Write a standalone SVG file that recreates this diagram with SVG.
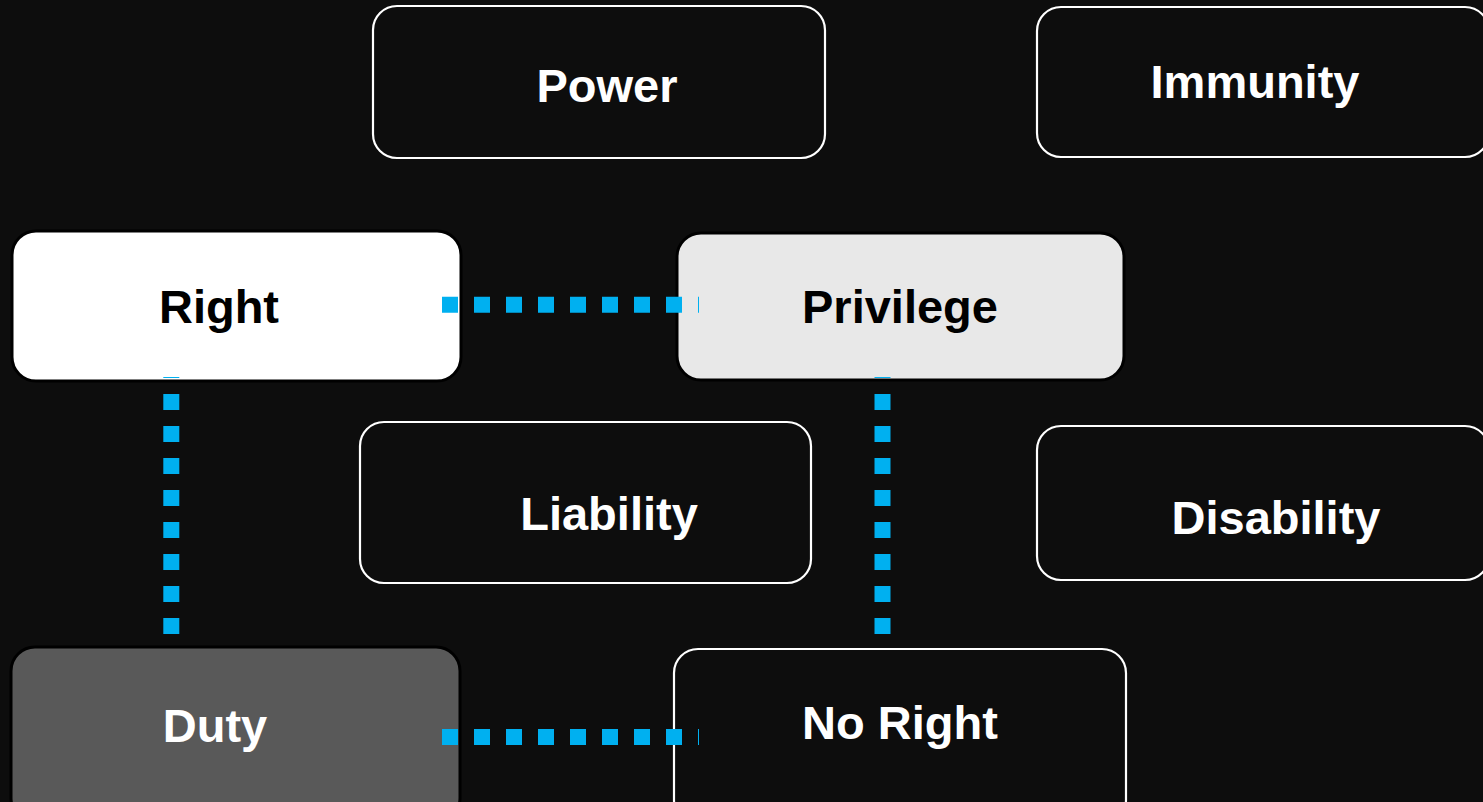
<svg xmlns="http://www.w3.org/2000/svg" width="1483" height="802" viewBox="0 0 1483 802">
<style>
.bg{fill:#0d0d0d}
.outl{fill:#0d0d0d;stroke:#ffffff;stroke-width:2.2}
.filled{stroke:#000000;stroke-width:3}
.lbl{font-family:"Liberation Sans",Arial,sans-serif;font-weight:bold;font-size:47px;text-anchor:middle}
.w{fill:#ffffff}
.k{fill:#000000}
.conn{stroke:#00b0f0;stroke-width:16;stroke-dasharray:16 16;fill:none}
</style>
<rect class="bg" x="0" y="0" width="1483" height="802"/>
<g id="power">
<rect class="outl" x="373" y="6" width="452" height="152" rx="24"/>
<text class="lbl w" x="607" y="102">Power</text>
</g>
<g id="immunity">
<rect class="outl" x="1037" y="7" width="452" height="150" rx="24"/>
<text class="lbl w" x="1255" y="98">Immunity</text>
</g>
<g id="right">
<rect class="filled" x="12" y="231" width="449" height="150" rx="24" fill="#ffffff"/>
<text class="lbl k" x="219" y="323">Right</text>
</g>
<g id="privilege">
<rect class="filled" x="677" y="233" width="447" height="147" rx="24" fill="#e8e8e8"/>
<text class="lbl k" x="900" y="323">Privilege</text>
</g>
<g id="liability">
<rect class="outl" x="360" y="422" width="451" height="161" rx="24"/>
<text class="lbl w" x="609" y="530">Liability</text>
</g>
<g id="disability">
<rect class="outl" x="1037" y="426" width="452" height="154" rx="24"/>
<text class="lbl w" x="1276" y="534">Disability</text>
</g>
<g id="duty">
<rect class="filled" x="11" y="647" width="449" height="175" rx="24" fill="#595959"/>
<text class="lbl w" x="215" y="742">Duty</text>
</g>
<g id="noright">
<rect class="outl" x="674" y="649" width="452" height="175" rx="24"/>
<text class="lbl w" x="900" y="739">No Right</text>
</g>
<g id="connectors">
<line class="conn" x1="442" y1="304.7" x2="699" y2="304.7"/>
<line class="conn" x1="442" y1="737" x2="699" y2="737"/>
<line class="conn" x1="171.3" y1="634" x2="171.3" y2="377"/>
<line class="conn" x1="882.5" y1="634" x2="882.5" y2="377"/>
</g>
</svg>
